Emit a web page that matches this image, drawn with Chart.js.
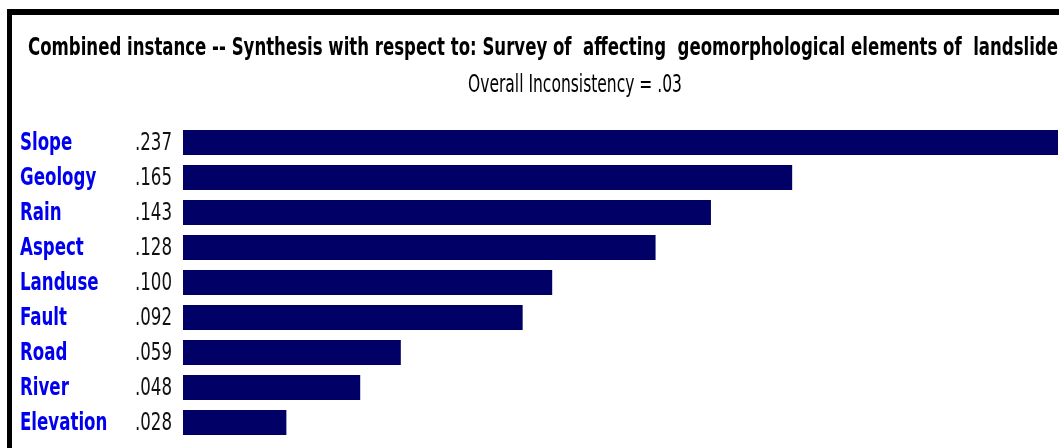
<!DOCTYPE html>
<html>
<head>
<meta charset="utf-8">
<script src="https://cdn.jsdelivr.net/npm/chart.js@4/dist/chart.umd.min.js"></script>
<style>
  html, body { margin: 0; padding: 0; background: #fff; overflow: hidden; }
  #frame { position: absolute; left: 7px; top: 9px; width: 1100px; height: 500px;
           border-top: 6px solid #000; border-left: 5px solid #000; box-sizing: border-box; }
  #wrap { position: absolute; left: 0; top: 0; width: 1059px; height: 448px; }
</style>
</head>
<body>
<div id="frame"></div>
<div id="wrap"><canvas id="c"></canvas></div>
<script>
const titleText = "Combined instance -- Synthesis with respect to: Survey of  affecting  geomorphological elements of  landslide";
const subtitleText = "Overall Inconsistency = .03";
const categories = ["Slope", "Geology", "Rain", "Aspect", "Landuse", "Fault", "Road", "River", "Elevation"];
const values = [0.237, 0.165, 0.143, 0.128, 0.100, 0.092, 0.059, 0.048, 0.028];
const valueLabels = [".237", ".165", ".143", ".128", ".100", ".092", ".059", ".048", ".028"];

const NARROW = '"Liberation Sans Narrow", "Arial Narrow", "DejaVu Sans Condensed", sans-serif';
const SQUEEZE = 0.74;

function narrowText(ctx, text, x, y) {
  const w = ctx.measureText(text).width * SQUEEZE;
  ctx.fillText(text, x, y, w);
}

const textPlugin = {
  id: 'texts',
  afterDraw(chart) {
    const ctx = chart.ctx;
    const yScale = chart.scales.y;
    ctx.save();
    ctx.textBaseline = 'alphabetic';
    // title
    ctx.fillStyle = '#000';
    ctx.font = 'bold 25px ' + NARROW;
    ctx.textAlign = 'left';
    ctx.fillText(titleText, 28, 55, 1030);
    // subtitle
    ctx.font = '25px ' + NARROW;
    ctx.textAlign = 'center';
    ctx.fillText(subtitleText, 575, 92, 214);
    // category names and values, positioned by the category scale
    ctx.textBaseline = 'middle';
    categories.forEach((name, i) => {
      const py = yScale.getPixelForValue(i) + 1;
      ctx.font = 'bold 25px ' + NARROW;
      ctx.fillStyle = '#0000ee';
      ctx.textAlign = 'left';
      narrowText(ctx, name, 20, py);
      ctx.font = '25px ' + NARROW;
      ctx.fillStyle = '#111';
      ctx.textAlign = 'right';
      narrowText(ctx, valueLabels[i], 172, py);
    });
    ctx.restore();
  }
};

new Chart(document.getElementById('c'), {
  type: 'bar',
  data: {
    labels: categories,
    datasets: [{
      data: values,
      backgroundColor: '#000066',
      borderWidth: 0,
      categoryPercentage: 1,
      barPercentage: 0.72
    }]
  },
  options: {
    indexAxis: 'y',
    responsive: true,
    maintainAspectRatio: false,
    animation: false,
    events: [],
    layout: { padding: { top: 125, bottom: 8, left: 183, right: 1 } },
    plugins: { legend: { display: false }, tooltip: { enabled: false }, title: { display: false } },
    scales: {
      x: { display: false, min: 0, max: 0.237 },
      y: { display: false }
    }
  },
  plugins: [textPlugin]
});
</script>
</body>
</html>
